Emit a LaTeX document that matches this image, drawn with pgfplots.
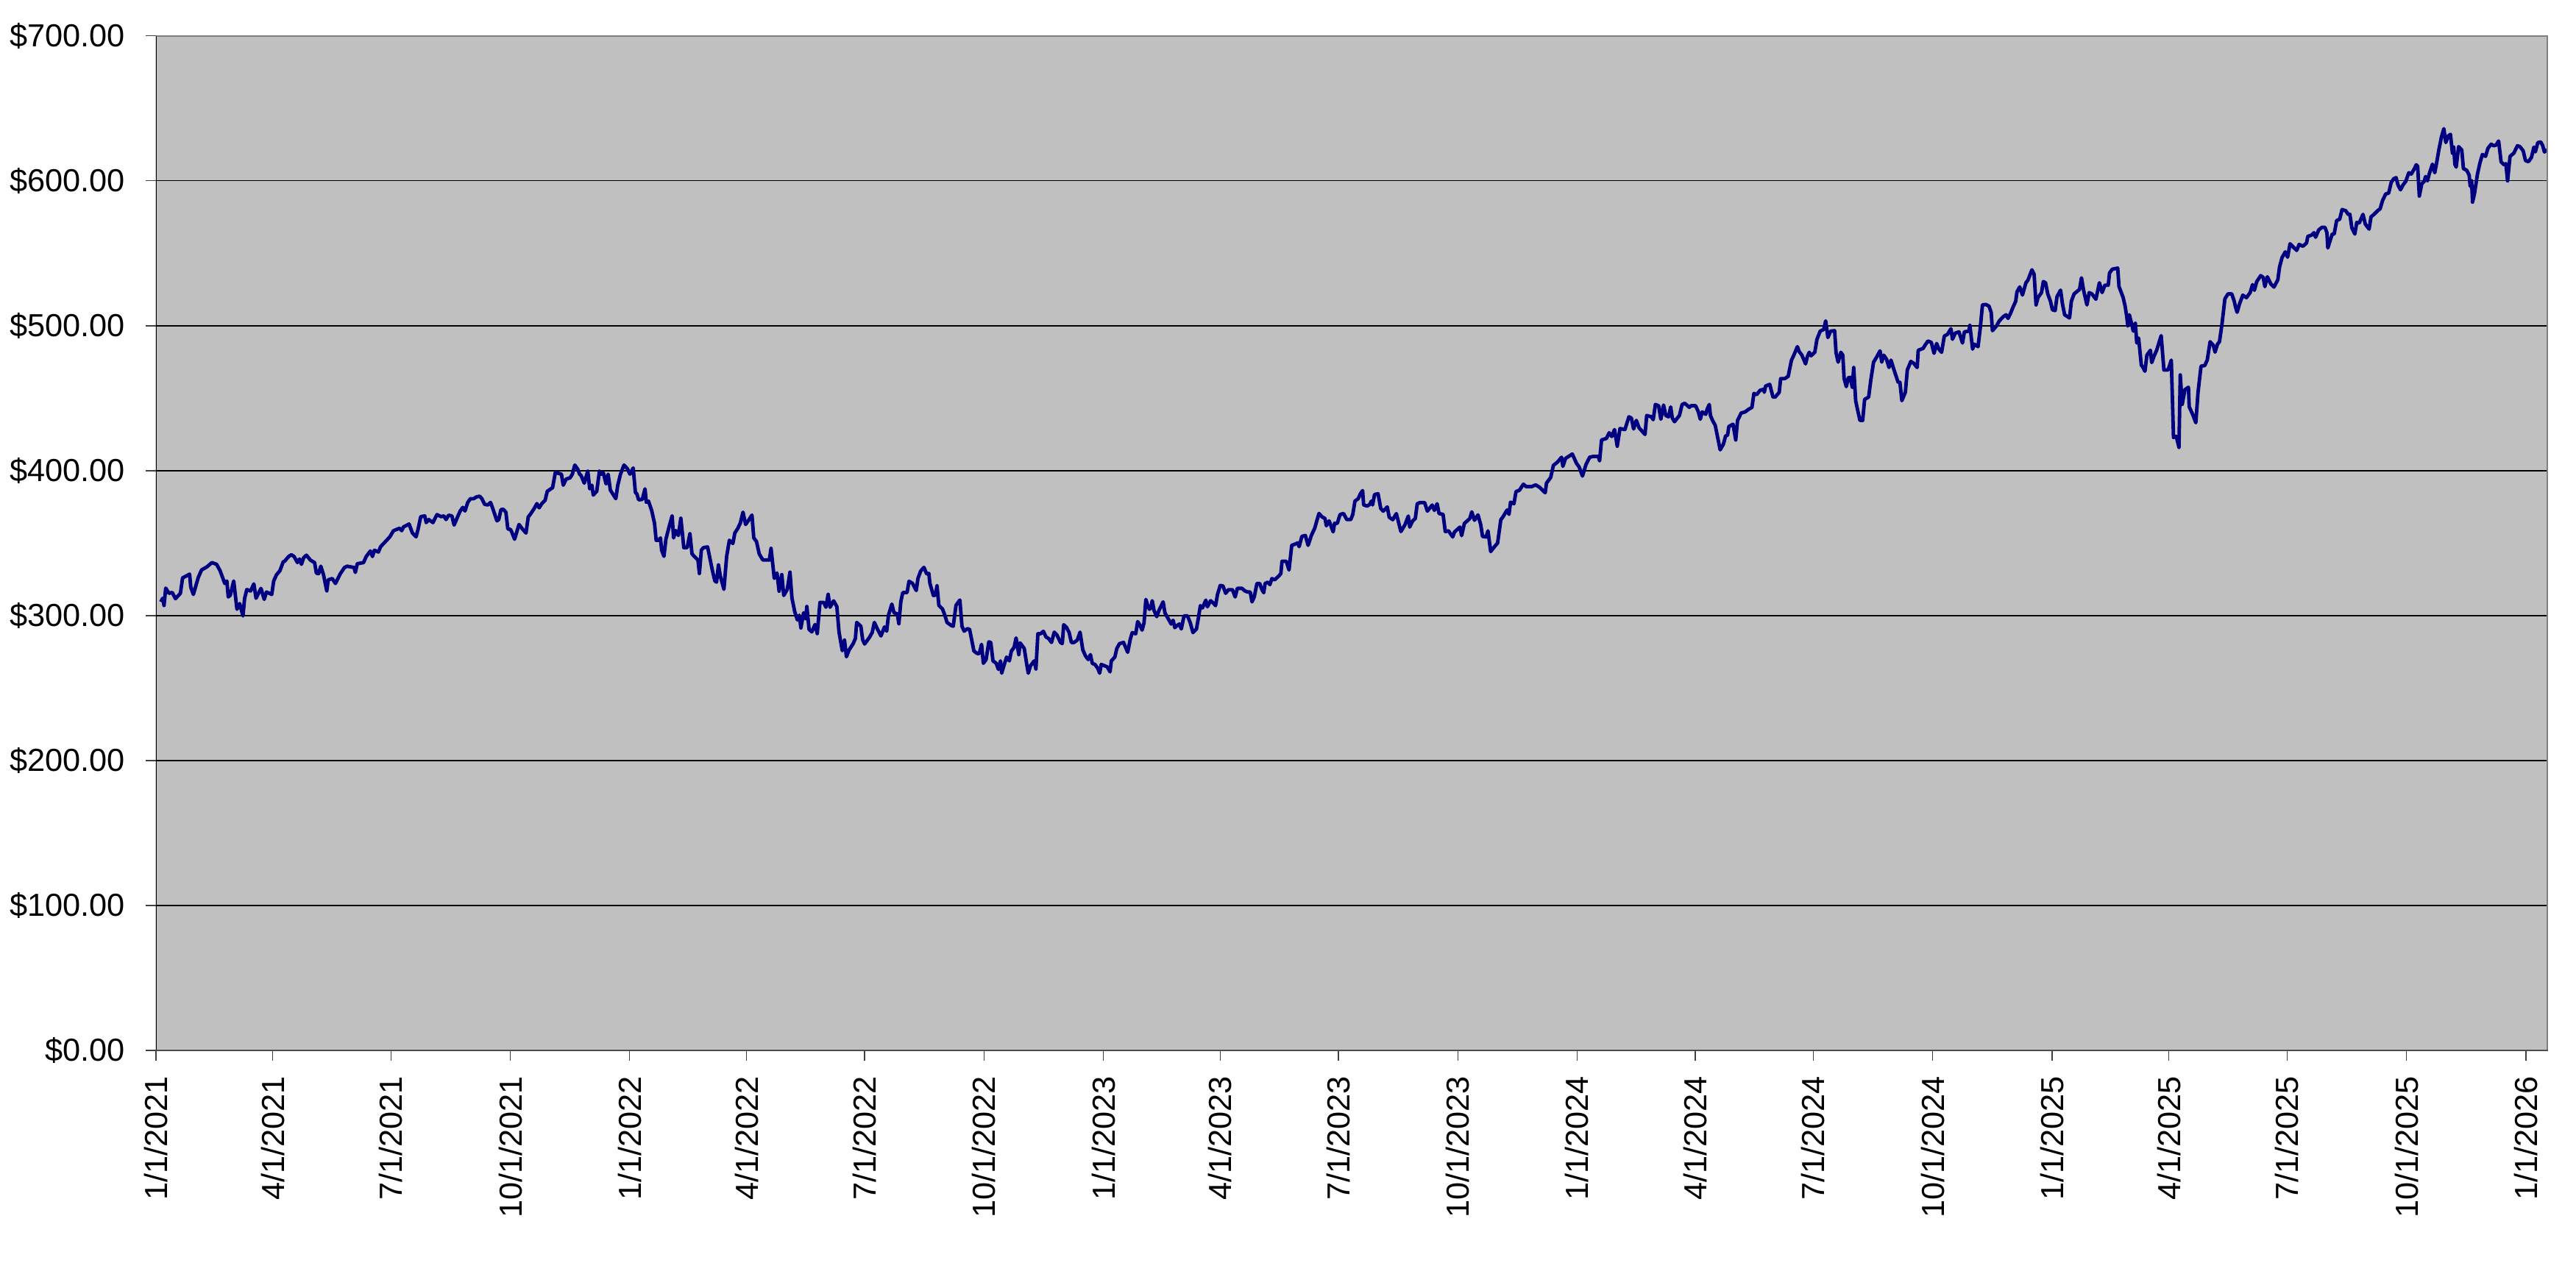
\documentclass[border=0pt]{standalone}
\usepackage{pgfplots}
\pgfplotsset{compat=1.18}
\usepackage{fontspec}
\setmainfont{Liberation Sans}
\definecolor{plotgray}{HTML}{C0C0C0}
\definecolor{framegray}{HTML}{808080}
\definecolor{navyline}{HTML}{000080}
\begin{document}
\begin{tikzpicture}
\begin{axis}[
  width=780.2pt, height=331pt, scale only axis,
  xmin=0, xmax=1843, ymin=0, ymax=700,
  axis background/.style={fill=plotgray},
  axis line style={draw=none},
  xtick={0,90,181,273,365,455,546,638,730,820,911,1003,1095,1186,1277,1369,1461,1551,1642,1734,1826},
  xticklabels={1/1/2021,4/1/2021,7/1/2021,10/1/2021,1/1/2022,4/1/2022,7/1/2022,10/1/2022,1/1/2023,4/1/2023,7/1/2023,10/1/2023,1/1/2024,4/1/2024,7/1/2024,10/1/2024,1/1/2025,4/1/2025,7/1/2025,10/1/2025,1/1/2026},
  ytick={0,100,200,300,400,500,600,700},
  yticklabels={\$0.00,\$100.00,\$200.00,\$300.00,\$400.00,\$500.00,\$600.00,\$700.00},
  ymajorgrids, major grid style={black, line width=0.3pt},
  tick align=outside, tick pos=left, major tick length=3.4pt,
  tick style={black!75, line width=0.3pt},
  x tick label style={rotate=90, anchor=east},
  xticklabel shift=1.5pt, yticklabel shift=3.2pt,
  font=\fontsize{10.4}{12}\selectfont,
]
\addplot[navyline, line width=1.15pt, line join=round] table {
3.7 309.5
5.2 312
6.2 307
7.5 319
10 315.4
12.5 316
15 311.7
18.8 315.4
20.5 326
24.2 327.8
25.9 328.6
26.8 319.7
28.8 314.6
32.6 326.4
35.1 331.5
39.3 333.7
43.1 336.6
46.7 335.4
49.4 331
53 322.2
54.6 323.9
55.7 312.9
57.2 314
59.9 323.9
62.4 304.4
64.5 308.3
67 299.8
68.3 312
70 318
72.9 317
75.4 321.9
77.1 312
80.9 318.8
83.4 311.2
85.1 316.3
89.2 314.6
90.7 323.9
92.8 328.1
95.5 331
98 337.1
99.1 337.5
102.2 340.8
104.3 342
106.4 340.8
109 336.6
110.6 339.1
112.1 335.4
113.8 340
115.9 341.7
119 338.3
122.2 336.6
123.6 329.3
125.3 329
127 334.1
129.1 328.1
131.6 317.1
132.7 324.7
135.8 325.6
138.3 322.2
142.1 329
145.2 333.2
147.3 334.1
152.6 333.2
153.6 329.8
155.1 335.8
159.9 336.6
162 340.8
165.2 344.6
166.8 340.8
168.3 345.1
171.4 343.9
173.1 347.6
176.7 351
180.2 354.4
183 358.6
187.8 360.3
189.3 358.6
190.7 361.2
195 363.2
197.6 357
200.4 354.4
201.9 359.5
204 368.3
207.1 368.8
208.2 364.2
210.2 366.3
213.4 364.2
216.5 369.7
219.7 368.3
221.8 368.8
223.5 366.3
225.5 369.3
228 368.8
229.7 362.5
232.3 368
234.4 372.2
236.4 374.7
238.1 372.2
240.2 378.1
242.3 380.7
244.8 380.7
246.9 381.9
249.4 382.4
251.1 380.7
253.2 376.8
255.7 376.4
257.8 378.1
259.5 373.9
262.7 365.4
264.1 366.3
265.8 373.1
267.5 373.4
269.6 371.4
271.1 359.8
273.1 359.5
274.2 357.5
276.3 352.7
279.7 362.9
282.6 359.5
285.1 357
286.8 368
288.9 370.5
291.4 373.9
293.5 377.3
295.2 374.4
297.3 377.3
299.8 379.5
301.5 385.8
305.6 388.3
307.7 398.8
312.4 397.6
313.8 390
316 394.2
319.1 395.1
320.8 397.6
322.7 403.9
325 401
326.4 397.6
327.5 396.8
330 391.4
332.7 399.8
334.2 387.5
335.9 390
336.9 383.2
339.6 385.8
341.7 399.8
343.2 397.6
344.7 398.5
346.8 390.9
348.4 397.6
350.1 386.6
354.3 380.7
355.8 390
357.9 397.6
360.6 403.9
363.1 401.5
365.2 397.6
367.7 401.9
369.4 384.9
370.5 384.1
371.9 379.9
374.7 380.2
376.8 387.5
377.8 378.2
379.5 379
382 372.3
384.1 363.8
385.4 352
387.2 352
388.7 353.6
389.6 345.2
391.4 340.9
392.9 352.8
395.6 362.1
397.7 368.9
398.8 353.6
400.5 358.7
402.5 355.3
404.4 367.2
406.7 346.9
409.3 346.9
411.4 356.5
413 342.6
415.6 340.1
417.6 338.4
418.7 329.1
420.2 345.2
421.8 346.9
425 347.4
426.5 340.9
428.6 331.6
430.6 324
431.9 323.1
433.4 335
434.8 327.4
437.6 318.1
439.7 340.9
441.8 352
444.5 349.8
446 357
448.1 359.9
450.2 363.8
452.3 371.4
454.3 362.9
456.4 365.5
459.2 369.4
460.6 353.6
462.7 351.1
464.8 342.6
467.6 338.4
470.1 338.4
472.6 338.4
473.9 346.4
476.4 325.7
478.5 329.4
480.1 316.9
482.2 328.3
483.7 313.9
486.4 318.1
488.5 330
490 312.2
492.1 302.9
494.2 297
495.7 300.3
496.9 291.5
499 302
500.5 297.8
501.5 306.3
503.2 290.5
505.3 288.8
507.8 293.9
509.5 287.6
511.6 309.1
514.5 309.1
516.2 305.8
517.9 314.7
519.4 305.8
522.1 310.2
524.6 306.3
526.3 288.5
528.8 275.8
530.5 283.1
532 271.6
534 276.3
537.2 280.7
538.9 284.3
539.9 295.3
543.1 292.7
544.5 283.4
546 280.4
549.8 285.1
551.9 288.5
553.5 295.3
556 290.5
558.6 286
561.3 292.2
563 289.3
564.4 300.3
567 308
568.6 302
571.2 301.2
572.4 294.4
573.9 309.6
575.4 315.9
578.7 315.9
580.2 323.7
582.9 322.3
585.8 317.3
587.1 325.7
589.2 330.8
591.7 333.3
593.8 328.8
595.5 329.1
596.3 322.3
599 313.9
600.5 314.2
601.8 320.6
603.2 307.1
606 304.6
608.1 299.5
609.5 295.3
612.7 293.2
614.3 292.7
616.4 307.1
619.4 310.8
621 292.7
622.7 289.3
625.2 291
626.9 290.5
630.2 275.6
632.7 273.9
634.4 273.9
636.1 280.2
637.5 267.1
639.6 269.7
641.7 281.9
643.2 281.5
644.9 268.8
647.4 267.1
649.1 262.9
650.7 268.8
651.6 260.3
653.3 265.4
655.4 271.4
657.5 268.8
659.1 275.6
661.2 278.1
662.7 284.6
664.8 273.1
665.8 281.2
669 277.3
671.1 265.4
672.1 260.3
673.8 265.4
676.7 268.8
678 263.2
679.5 287.5
681.6 287.5
683.7 289.2
685.8 285.3
687.9 284.1
690 281.5
692.1 288.6
694.2 286.6
696.9 281.5
698.3 280.7
699.4 293.7
701.5 292
703.6 288.3
705.3 281.5
707.4 281.5
709.9 283.2
712 288.6
714.1 276.4
716.2 272.2
718.3 269.7
720 273.1
721.4 267.1
723.5 266.3
725.6 263.7
727.1 260.3
728.3 266.3
730.9 265.4
733 264.6
735.1 261.2
736.1 268.8
738.8 271.4
740.3 277.3
742.4 280.7
745.5 281.5
748.7 274.7
750.8 284.1
752.2 288.3
754.9 287.5
756.4 295.9
758.1 293.4
759.8 290
761.3 295.1
762.7 311.2
764.4 306.1
765.5 304.4
766.5 305.3
767.6 310.3
769 303.6
771.1 299.3
772.8 303.6
776 309.5
777.4 301.9
780.1 297.6
782.2 294.2
783.7 296.8
785 291.7
787.1 293.4
788.5 294.2
790 290.8
792.1 299.8
794.8 299.8
796.9 295.1
799 288.3
801.7 290.8
803.2 298.5
804.7 306.9
806.3 305.3
808.9 310.7
810.1 306.1
812.6 310.3
814.7 308.6
816.4 306.9
817.9 314.6
820 320.8
822.1 320.5
824.2 315.4
826.3 317.9
829.4 317.9
831.5 312.9
833.2 318.8
836.8 318.8
838.9 317.1
841 316.3
843.1 316.3
844.5 309.5
846.2 312.9
848.3 322.2
850.4 322.2
852.1 318
853.5 315.8
854.6 322.2
856.7 323.1
858.3 321.4
859.8 325.6
861.9 324.7
865.1 327.3
866.7 329
867.6 337.5
870.9 337.5
873 331.5
875.1 348.5
877.6 349.3
879.7 350.2
880.8 347.6
882.9 354.7
885.6 355.3
887.7 348.5
890.2 355.3
892.8 360.3
894.4 365.4
896.1 370.5
898.6 368
900.7 367.1
901.8 362
903.9 365.4
907 357.8
908.1 363.7
910.2 363.7
912.3 369.7
915 370.5
917.5 366.3
920.6 366.3
922.1 369.7
923.8 379
926.3 380.7
928 384.1
929.7 386.3
930.5 376.4
933.2 375.6
935.3 376.8
936.4 379
937.4 376.4
938.9 383.6
941.6 384.1
943.7 373.9
945.6 372.1
948.7 375
950.2 367.9
952.9 366.2
955.7 370.4
959.2 358
962.4 362.8
964.9 368.7
966 361.1
968.2 365.3
970.3 367
971.8 377.2
973.9 378
977.5 378
979.6 372.1
983.3 376.3
985 372.6
987.1 377.2
988.6 370.4
991.7 369.9
993.4 358
995.9 358.5
999.1 354.3
1000.5 357.7
1004.7 361.1
1006 355.2
1008.1 363.6
1009.6 364.8
1012.3 367
1013.8 371.6
1015.9 365.8
1018.6 369.5
1020.7 362.8
1022.1 354.7
1024.9 354.3
1026.3 358.5
1028.4 344.2
1030.5 346.7
1033.7 350.1
1036.2 366.2
1037.9 368.2
1041 372.9
1042.5 369.9
1043.7 378.3
1046.3 377.2
1047.9 385.6
1050.5 386.5
1053.6 390.7
1055.7 389
1059.9 389
1063 390.2
1066.2 388.5
1068.3 386.5
1070.4 384.8
1071.4 391.5
1074.6 395.3
1076.7 403.7
1079.8 405.9
1083 409.3
1084 403
1086.1 408.5
1091.3 411.5
1094.5 405.1
1096.6 402.5
1099.1 396.3
1101.8 404.2
1104.6 409.3
1107.1 409.8
1111.3 409.8
1112.3 406.8
1113.8 421.2
1117.6 422.3
1119.7 426.2
1121.7 423.6
1123.8 428.4
1125.9 416.9
1128 429.1
1131.8 428.4
1134.9 437.2
1136.8 436.3
1138.5 428.8
1140.6 434.7
1142.7 429.6
1147.3 425
1148.6 438.1
1152.2 437.2
1153.6 435.2
1155.3 445.7
1157.8 444.8
1159.5 435.5
1161.6 445.3
1163.3 438.1
1165.4 437.2
1167.1 444
1168.3 436.4
1170 433.8
1173.8 438.1
1175.9 445.7
1177.9 446.5
1181.5 443.7
1182.6 444.8
1186.3 444.8
1188.4 440.6
1189.9 435.5
1191.4 440.6
1194.1 438.9
1195.1 442.3
1196.8 445.7
1197.7 438.1
1199.3 434.7
1201.4 431.3
1203.1 423.7
1205.2 414.4
1207.7 418.3
1209.4 424
1210.9 424.5
1211.9 430.5
1215.1 432.1
1217.2 421.2
1218.6 434.7
1221.4 439.8
1224.5 440.6
1227 442.3
1229.7 443.7
1231.2 453.3
1233.3 452.5
1236 455.5
1238.8 456.2
1239.2 454.1
1240.2 458.4
1243.4 459.6
1245.9 450.8
1247.6 450.8
1250.7 454.1
1251.8 463.5
1254.9 463.5
1257.6 465.1
1260.1 476.1
1262.3 480.4
1264.7 485.6
1266.1 482.2
1268.2 479.7
1271 473.7
1272.4 478.8
1273.9 481.7
1275.2 479.3
1278.1 481.7
1279.8 490.7
1282.3 496.3
1285 497.5
1286.5 503.4
1288.2 491.9
1290.3 496.3
1293.4 496.6
1294.5 481.4
1296.1 474.9
1298.2 481.7
1299.7 479.7
1300.7 463.6
1302.4 458
1303.9 464.1
1305.4 464.4
1307 457.6
1308.1 471.2
1309.6 448.3
1311.2 441.5
1312.9 434.7
1315 434.7
1316.5 449.2
1319.6 450.8
1321.3 462.7
1323.4 474.9
1325.5 478
1328.4 482.7
1329.7 474.9
1331.2 479.7
1333.3 477.1
1335.3 471.2
1336.8 476.3
1338.9 470.3
1342.3 461
1343.7 461
1345.2 448.3
1347.9 454.2
1349.4 469.5
1352.1 475.4
1354.2 474.2
1357 471.2
1357.8 483.1
1361.6 484.4
1363.2 486.8
1365.3 489.5
1367.9 488.5
1370 481
1372 487.8
1373.7 483.9
1375.8 481.7
1377.9 492.9
1380.4 494.1
1383 498
1384.2 490.7
1386.3 494.9
1389.2 495.8
1391.9 488.1
1393.4 495.8
1396.8 496.3
1397.6 500.3
1399.7 483.9
1401 487.3
1403.9 485.6
1405.6 498.3
1407.3 514.4
1409.8 514.7
1412.3 513.6
1414 509.3
1415 496.6
1418.2 500
1420.3 503.4
1423.4 506.3
1425.5 507.6
1427 505.1
1428.7 508.1
1430.8 512.7
1432.9 516.9
1433.9 523.4
1436 526.8
1438.1 521.2
1440.8 529.7
1442.3 531.4
1445.4 538.6
1447.1 535.6
1448.6 514.4
1450.1 519.5
1452.8 522.9
1454.2 530.5
1455.9 529.7
1457.6 522
1459.7 516.9
1461.2 511
1463.3 510.5
1464.7 520
1467.5 524.6
1468.9 515.3
1470.6 507.6
1474.4 505.4
1475.8 516.9
1477.9 522
1482.1 525.1
1483.6 533.1
1485.2 524.6
1487.8 514.4
1489.5 522.9
1491.6 522
1494.7 518.3
1497.4 529.7
1499.5 522.9
1501.6 528
1504.2 528
1505.2 536.4
1507.3 539
1511.5 539.8
1512.5 527.1
1515.7 519.5
1517.2 513.6
1518.4 506.8
1519.3 500
1520.5 507.6
1522.6 500
1523.5 496.3
1525.1 501.7
1526.2 488.1
1527.6 491.5
1529.7 472.9
1531 471.2
1532.5 468.6
1534 479.7
1536.7 483.1
1537.7 474.6
1539.4 478.8
1541.5 483.1
1545 493.2
1547.1 469.5
1550.3 469.5
1552.8 476.3
1554.5 422.9
1556.6 423.7
1558.7 416.1
1559.7 466.1
1561.2 445.8
1563.3 455.9
1566 457.6
1566.6 444.1
1569.2 439
1571.7 433.1
1573.4 454.2
1575.7 472.1
1578.6 472.6
1580.5 476.4
1582.7 489
1585.2 486.5
1586.5 481.8
1588.4 487.3
1589.9 489
1591.8 500.8
1594.1 518.6
1596.5 522
1599.4 522
1601.3 516.9
1602.2 513.2
1603.5 509.3
1605.4 515.2
1607.9 521.1
1610.7 519.4
1613.5 522.8
1615.4 528.4
1616.8 524.5
1618.6 530.4
1621.7 534.6
1623.6 533.4
1624.9 527
1626.8 533.8
1629.6 528.7
1631.9 526.7
1634.9 531.8
1636.2 540.5
1638.1 547
1640.6 551
1642.4 547.3
1644.3 556.6
1647 554.1
1649.4 552
1651.3 556.1
1654.2 554.9
1657 557.1
1658 561.7
1660.8 562.5
1662.7 564.2
1664 561.1
1666.4 566.2
1668.9 567.9
1671.2 567.9
1672.7 564.2
1673.4 553.7
1675.3 559.1
1676.8 563.3
1678.3 563.3
1680.2 572.6
1682.5 573.5
1684.4 580.2
1687.2 579.4
1689.1 576.9
1690.4 576.9
1691.9 567.6
1694.2 563.3
1695.7 571.3
1697.6 570.9
1700.5 576.9
1702.3 570.1
1705.2 566.7
1706.7 575.2
1709 576.9
1711.8 579.4
1713.7 580.7
1715.6 586.5
1718 590.9
1720.3 591.6
1722.2 598.8
1724.1 601.4
1726 602.2
1727.5 597.1
1729.4 593.8
1731.3 597.1
1733.5 599.7
1735.8 605.6
1737.7 604.7
1740.1 608.4
1741.5 611.1
1742.6 610.1
1743.9 589.5
1745.8 598
1747.7 599.7
1748.7 603
1750.2 600
1751.5 604.7
1754 611.5
1755.8 605.6
1757.2 612.3
1759 621.6
1760.9 630.1
1762.8 636
1764.3 626.4
1766.1 630.9
1767.9 632.1
1769.4 619.1
1770.4 623.3
1771.3 611.5
1772.3 609.5
1774.2 623.6
1776.6 621.3
1777.9 608.4
1780.4 607.3
1782.3 603.9
1783.1 596.3
1784.2 600
1784.9 585.3
1786.4 591.2
1788.7 604.7
1790.6 612.3
1792.5 618.2
1794.9 616.9
1796.8 622.5
1799.3 625.3
1801.2 624.2
1803.1 624.7
1805 627.5
1806.9 613.2
1809.1 611.1
1810.6 611.8
1811.9 600
1813.8 616.9
1816.7 619.1
1819.5 624.2
1821.4 623.6
1823.9 620.8
1825.7 614
1828 613.2
1830.3 616.2
1832.2 623.3
1833.3 620
1835.2 626.4
1837.5 626.8
1839 624.2
1840.3 619.9
1842.2 621.6
};
\draw[framegray, line width=0.7pt] (rel axis cs:0,0) rectangle (rel axis cs:1,1);
\draw[black, line width=0.5pt] (rel axis cs:0,0) -- (rel axis cs:0,1);
\draw[black!70, line width=0.5pt] (rel axis cs:0,0) -- (rel axis cs:1,0);
\end{axis}
\pgfresetboundingbox
\path[use as bounding box] (-50.88pt,-69.36pt) rectangle (789.36pt,342.72pt);
\end{tikzpicture}
\end{document}
